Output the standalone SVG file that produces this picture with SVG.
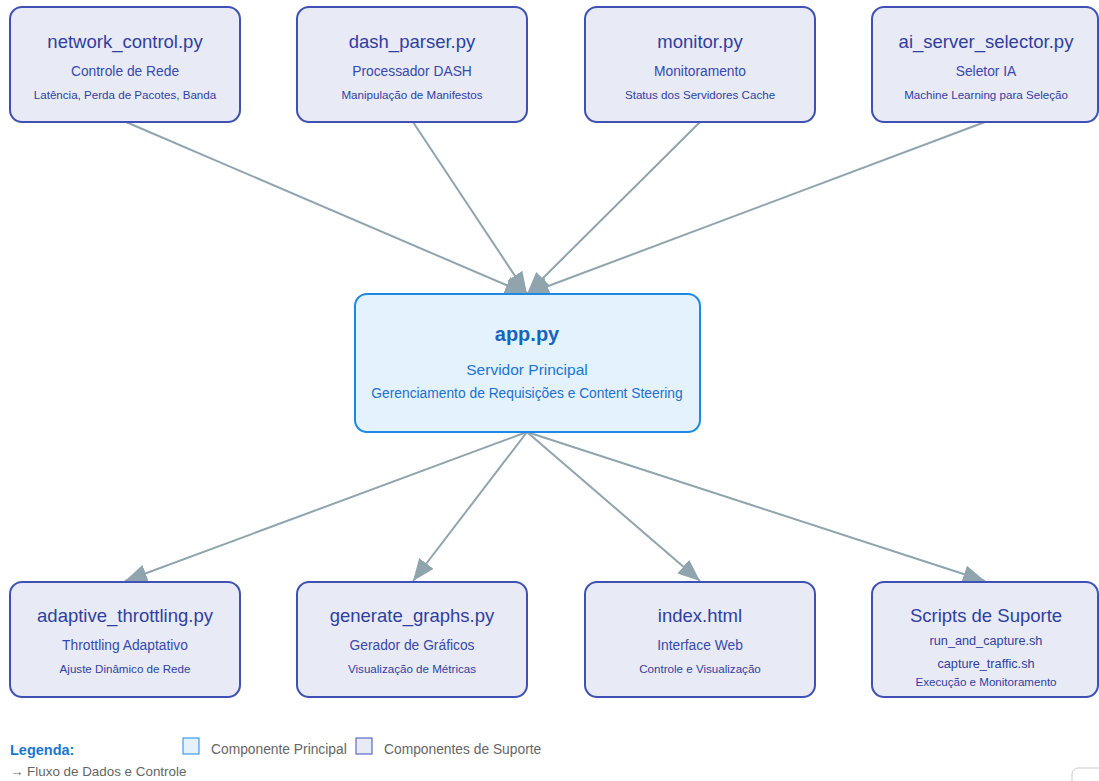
<svg xmlns="http://www.w3.org/2000/svg" width="1099" height="781" viewBox="0 0 1099 781">
<defs>
<marker id="ah" markerUnits="userSpaceOnUse" markerWidth="22" markerHeight="18" refX="22" refY="9" orient="auto">
<path d="M0,0 L22,9 L0,18 Z" fill="#90a4ae"/>
</marker>
<style>
text{font-family:"Liberation Sans",Arial,sans-serif;text-anchor:middle}
.box{fill:#e8eaf6;stroke:#3f51b5;stroke-width:2}
.main{fill:#e3f2fd;stroke:#1e88e5;stroke-width:2}
.t{font-size:18.5px;fill:#303f9f}
.s{font-size:13.8px;fill:#3949ab}
.d{font-size:11.6px;fill:#303f9f}
.mt{font-size:20px;font-weight:bold;fill:#1565c0}
.ms{font-size:15.5px;fill:#1976d2}
.md{font-size:13.8px;fill:#1e6fd0}
.conn line{stroke:#90a4ae;stroke-width:2;marker-end:url(#ah)}
.lg{font-size:13.8px;fill:#666;text-anchor:start}
</style>
</defs>
<rect width="1099" height="781" fill="#ffffff"/>
<g id="connectors" class="conn">
<line x1="126" y1="122" x2="527" y2="294"/>
<line x1="413" y1="122" x2="527" y2="294"/>
<line x1="700" y1="122" x2="527" y2="294"/>
<line x1="985" y1="122" x2="527" y2="294"/>
<line x1="527" y1="432" x2="125" y2="581"/>
<line x1="527" y1="432" x2="413" y2="581"/>
<line x1="527" y1="432" x2="700" y2="581"/>
<line x1="527" y1="432" x2="985" y2="581"/>
</g>
<g id="network_control">
<rect class="box" x="10" y="7" width="230" height="115" rx="12"/>
<text class="t" x="125" y="48">network_control.py</text>
<text class="s" x="125" y="76">Controle de Rede</text>
<text class="d" x="125" y="99">Latência, Perda de Pacotes, Banda</text>
</g>
<g id="dash_parser">
<rect class="box" x="297" y="7" width="230" height="115" rx="12"/>
<text class="t" x="412" y="48">dash_parser.py</text>
<text class="s" x="412" y="76">Processador DASH</text>
<text class="d" x="412" y="99">Manipulação de Manifestos</text>
</g>
<g id="monitor">
<rect class="box" x="585" y="7" width="230" height="115" rx="12"/>
<text class="t" x="700" y="48">monitor.py</text>
<text class="s" x="700" y="76">Monitoramento</text>
<text class="d" x="700" y="99">Status dos Servidores Cache</text>
</g>
<g id="ai_server_selector">
<rect class="box" x="872" y="7" width="226" height="115" rx="12"/>
<text class="t" x="986" y="48">ai_server_selector.py</text>
<text class="s" x="986" y="76">Seletor IA</text>
<text class="d" x="986" y="99">Machine Learning para Seleção</text>
</g>
<g id="app">
<rect class="main" x="355" y="294" width="345" height="138" rx="12"/>
<text class="mt" x="527" y="341">app.py</text>
<text class="ms" x="527" y="375">Servidor Principal</text>
<text class="md" x="527" y="398">Gerenciamento de Requisições e Content Steering</text>
</g>
<g id="adaptive_throttling">
<rect class="box" x="10" y="582" width="230" height="115" rx="12"/>
<text class="t" x="125" y="622">adaptive_throttling.py</text>
<text class="s" x="125" y="650">Throttling Adaptativo</text>
<text class="d" x="125" y="673">Ajuste Dinâmico de Rede</text>
</g>
<g id="generate_graphs">
<rect class="box" x="297" y="582" width="230" height="115" rx="12"/>
<text class="t" x="412" y="622">generate_graphs.py</text>
<text class="s" x="412" y="650">Gerador de Gráficos</text>
<text class="d" x="412" y="673">Visualização de Métricas</text>
</g>
<g id="index_html">
<rect class="box" x="585" y="582" width="230" height="115" rx="12"/>
<text class="t" x="700" y="622">index.html</text>
<text class="s" x="700" y="650">Interface Web</text>
<text class="d" x="700" y="673">Controle e Visualização</text>
</g>
<g id="scripts">
<rect class="box" x="872" y="582" width="226" height="115" rx="12"/>
<text class="t" x="986" y="622">Scripts de Suporte</text>
<text class="d" x="986" y="645" style="font-size:12.7px">run_and_capture.sh</text>
<text class="d" x="986" y="668" style="font-size:12.7px">capture_traffic.sh</text>
<text class="d" x="986" y="686">Execução e Monitoramento</text>
</g>
<g id="legend">
<text x="10" y="755" style="font-size:14.5px;font-weight:bold;fill:#1976d2;text-anchor:start">Legenda:</text>
<rect x="183" y="738" width="16" height="16" fill="#e3f2fd" stroke="#1e88e5" stroke-width="1"/>
<text class="lg" x="211" y="754">Componente Principal</text>
<rect x="356" y="738" width="16" height="16" fill="#e8eaf6" stroke="#3f51b5" stroke-width="1"/>
<text class="lg" x="384" y="754">Componentes de Suporte</text>
<text class="lg" x="10" y="776" style="font-size:13.4px">→ Fluxo de Dados e Controle</text>
</g>
<rect x="1072" y="768" width="60" height="40" rx="6" fill="#ffffff" stroke="#cccccc" stroke-width="1"/>
</svg>
